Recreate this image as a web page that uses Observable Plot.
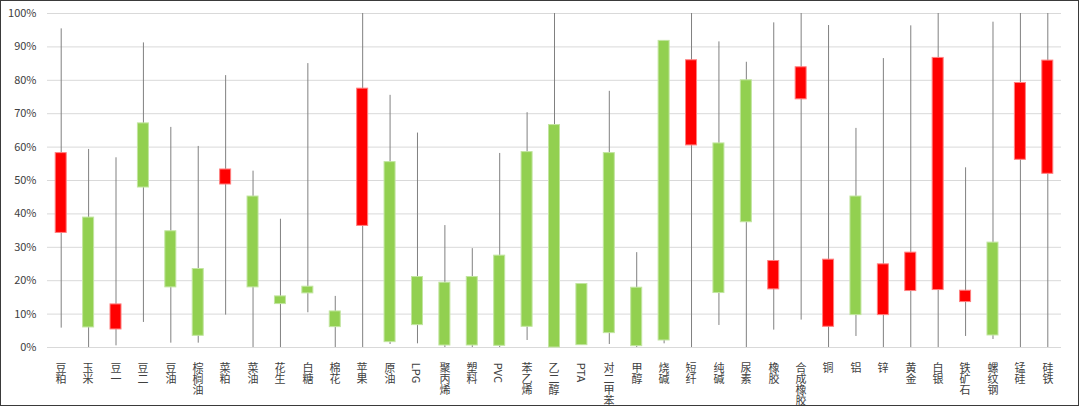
<!DOCTYPE html>
<html>
<head>
<meta charset="utf-8">
<script src="https://cdn.jsdelivr.net/npm/d3@7"></script>
<script src="https://cdn.jsdelivr.net/npm/@observablehq/plot@0.6"></script>
<style>
  html, body { margin: 0; padding: 0; background: #fff; }
  #wrap { position: relative; width: 1080px; height: 406px; overflow: hidden; }
  #frame { position: absolute; left: 0; top: 0; width: 1077px; height: 404px; border: 1px solid #3a3a3a; pointer-events: none; }
</style>
</head>
<body>
<div id="wrap"><div id="frame"></div></div>
<script>
const categories = ["豆粕","玉米","豆一","豆二","豆油","棕榈油","菜粕","菜油","花生","白糖","棉花","苹果","原油","LPG","聚丙烯","塑料","PVC","苯乙烯","乙二醇","PTA","对二甲苯","甲醇","烧碱","短纤","纯碱","尿素","橡胶","合成橡胶","铜","铝","锌","黄金","白银","铁矿石","螺纹钢","锰硅","硅铁"];
const boxLow  = [34.3, 6.0, 5.4, 47.9, 18.0, 3.5, 48.8, 18.0, 13.0, 16.2, 6.1, 36.4, 1.6, 6.7, 0.6, 0.6, 0.5, 6.2, 0, 0.7, 4.3, 0.4, 2.1, 60.5, 16.3, 37.5, 17.4, 74.3, 6.2, 9.7, 9.7, 16.9, 17.2, 13.6, 3.6, 56.2, 52.0];
const boxHigh = [58.2, 38.9, 12.9, 67.1, 34.8, 23.5, 53.3, 45.2, 15.3, 18.2, 10.8, 77.5, 55.5, 21.1, 19.4, 21.1, 27.5, 58.5, 66.6, 19.0, 58.2, 17.9, 91.8, 86.0, 61.1, 80.0, 25.9, 83.9, 26.3, 45.2, 24.9, 28.4, 86.7, 17.0, 31.4, 79.2, 85.9];
const wickLow = [5.8, 0, 0.5, 7.5, 1.3, 1.3, 9.7, 0, 0, 10.4, 0, 0, 0.9, 1.1, 0, 0, 0, 2.1, 0, 0.7, 0.9, 0, 1.1, 0, 6.6, 0, 5.2, 8.2, 0, 3.3, 0, 0, 0, 3.3, 2.4, 0, 0];
const wickHigh = [95.4, 59.3, 56.8, 91.2, 65.9, 60.2, 81.4, 52.8, 38.4, 85.0, 15.3, 100, 75.5, 64.2, 36.5, 29.6, 58.1, 70.3, 100, 19.0, 76.7, 28.4, 91.8, 100, 91.5, 85.4, 97.2, 100, 96.4, 65.6, 86.5, 96.3, 100, 53.8, 97.4, 100, 100];
// "red" = red box, "green" = green box
const boxType = ["red","green","red","green","green","green","red","green","green","green","green","red","green","green","green","green","green","green","green","green","green","green","green","red","green","green","red","red","red","green","red","red","red","red","green","red","red"];
const yTicks = [0, 10, 20, 30, 40, 50, 60, 70, 80, 90, 100];

const fillOf = {red: "#FF0000", green: "#92D050"};
const edgeOf = {red: "#FF8080", green: "#C2E5A0"};
const data = categories.map((c, i) => ({
  cat: c, lo: boxLow[i], hi: boxHigh[i], wlo: wickLow[i], whi: wickHigh[i],
  fill: fillOf[boxType[i]], edge: edgeOf[boxType[i]]
}));

const chart = Plot.plot({
  width: 1080,
  height: 406,
  marginLeft: 47,
  marginRight: 19,
  marginTop: 13,
  marginBottom: 59,
  style: {fontFamily: "'Noto Sans CJK SC', 'Noto Sans', sans-serif", color: "#404040", background: "transparent", overflow: "visible"},
  x: {domain: categories, padding: 0, round: false, axis: null},
  y: {domain: [0, 100], axis: null},
  color: {type: "identity"},
  marks: [
    Plot.gridY(yTicks, {stroke: "#d9d9d9", strokeOpacity: 1, strokeWidth: 1}),
    Plot.axisY(yTicks, {tickSize: 0, tickPadding: 11, fontSize: 11, tickFormat: d => d + "%", label: null}),
    Plot.ruleX(data, {x: "cat", y1: "wlo", y2: "whi", stroke: "#808080", strokeWidth: 1}),
    Plot.barY(data, {x: "cat", y1: "lo", y2: "hi", fill: "fill", stroke: "edge", strokeWidth: 1, insetLeft: 8.2, insetRight: 8.2}),
    Plot.axisX({tickSize: 0, tickPadding: 7, fontSize: 11, label: null})
  ]
});

// category labels: vertical writing (CJK upright, Latin rotated), snapped to whole pixels
const snap = s => s.replace(/-?\d+(\.\d+)?(e-?\d+)?/g, v => String(Math.round(+v)));
chart.querySelectorAll('g[aria-label="x-axis tick label"] text').forEach(t => {
  t.removeAttribute("dy");
  t.setAttribute("text-anchor", "start");
  t.style.writingMode = "vertical-rl";
  t.style.textOrientation = "mixed";
  ["x", "y"].forEach(a => { const v = t.getAttribute(a); if (v != null && /^-?[\d.]+$/.test(v)) t.setAttribute(a, Math.round(+v)); });
  const tr = t.getAttribute("transform");
  if (tr) t.setAttribute("transform", snap(tr));
});
const g = chart.querySelector('g[aria-label="x-axis tick label"]');
if (g) {
  g.setAttribute("text-anchor", "start");
  const tr = g.getAttribute("transform");
  if (tr) g.setAttribute("transform", snap(tr));
}

document.getElementById("wrap").insertBefore(chart, document.getElementById("frame"));
</script>
</body>
</html>
